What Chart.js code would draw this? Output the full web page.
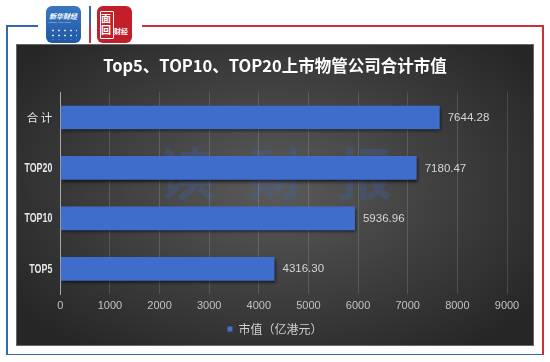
<!DOCTYPE html>
<html><head><meta charset="utf-8">
<script src="https://cdn.jsdelivr.net/npm/chart.js@4.4.0/dist/chart.umd.min.js"></script>
<style>
html,body{margin:0;padding:0;background:#fff;width:550px;height:362px;overflow:hidden;position:relative;font-family:"Noto Sans CJK SC",sans-serif}
.ln{position:absolute}
#panel{position:absolute;left:16px;top:44px;width:518px;height:302px;
 background:radial-gradient(ellipse 62% 68% at 50% 47%, #5b5b5b 0%, #404040 50%, #262626 100%);
 box-shadow: inset 0 0 0 1px #686868;}
#wm{position:absolute;left:143px;top:97px;font:bold 56px "Noto Sans CJK SC";color:rgba(60,100,175,0.28);letter-spacing:33px;white-space:nowrap;line-height:60px}
#panel canvas{position:absolute;left:0;top:0}
.logo{position:absolute;top:6px;width:35px;height:37px;border-radius:6px;overflow:hidden;color:#fff}
#lb{left:46px;background:linear-gradient(#3b76c0,#1e58a5)}
#lr{left:97px;background:#c21f2b}
</style></head>
<body>
<div class="ln" style="left:6px;top:25px;width:32px;height:1.5px;background:#3565ae"></div>
<div class="ln" style="left:142px;top:25px;width:401.5px;height:1.5px;background:#c9303a"></div>
<div class="ln" style="left:6px;top:25px;width:1.5px;height:330px;background:#3565ae"></div>
<div class="ln" style="left:6px;top:353.5px;width:537px;height:1.5px;background:#3565ae"></div>
<div class="ln" style="left:542px;top:25px;width:1.5px;height:330px;background:#c9303a"></div>
<div class="ln" style="left:89px;top:6px;width:1.5px;height:37px;background:linear-gradient(#3565ae 0%,#3565ae 50%,#c9303a 60%,#c9303a 100%)"></div>
<div class="logo" id="lb">
  <div style="position:absolute;left:3px;top:5px;font:italic bold 7px 'Noto Sans CJK SC';white-space:nowrap">新华财经</div>
  <div style="position:absolute;left:2px;top:14px;font:3px 'Liberation Serif';white-space:nowrap;transform:scale(0.9);transform-origin:left top">XINHUA FINANCE</div>
  <div style="position:absolute;left:4px;top:22px;width:27px;height:12px;background:radial-gradient(circle,#fff 0.8px,transparent 1.2px) 0 0/6px 5px;opacity:0.85"></div>
</div>
<div class="logo" id="lr">
  <div style="position:absolute;left:3px;top:5px;width:12px;height:26px;border:1px solid #fff;border-radius:1px"></div>
  <div style="position:absolute;left:4px;top:6px;font:bold 10px 'Noto Sans CJK SC';line-height:12px">面<br>回</div>
  <div style="position:absolute;left:17px;top:20px;font:bold 7px 'Noto Sans CJK SC';white-space:nowrap">财经</div>
</div>
<div id="panel">
  <div id="wm">读财报</div>
  <canvas id="c" width="518" height="302"></canvas>
</div>
<script>
const categories = ['合计', 'TOP20', 'TOP10', 'TOP5'];
const values = [7644.28, 7180.47, 5936.96, 4316.30];
const xTickValues = [0, 1000, 2000, 3000, 4000, 5000, 6000, 7000, 8000, 9000];
const seriesName = '市值（亿港元）';
const chartTitle = 'Top5、TOP10、TOP20上市物管公司合计市值';

const shadowPlugin = {
  id: 'barShadow',
  beforeDatasetsDraw(chart) {
    const ctx = chart.ctx; ctx.save();
    ctx.shadowColor = 'rgba(0,0,0,0.65)'; ctx.shadowBlur = 3; ctx.shadowOffsetX = 1.5; ctx.shadowOffsetY = 2;
  },
  afterDatasetsDraw(chart) { chart.ctx.restore(); }
};
const valueLabels = {
  id: 'valueLabels',
  afterDraw(chart) {
    const ctx = chart.ctx; ctx.save();
    ctx.font = '11.5px "Liberation Sans", Arial, sans-serif';
    ctx.fillStyle = '#d4d4d4'; ctx.textAlign = 'left'; ctx.textBaseline = 'middle';
    const meta = chart.getDatasetMeta(0);
    meta.data.forEach((bar, i) => {
      ctx.fillText(values[i].toFixed(2), bar.x + 8, bar.y + 0.5);
    });
    ctx.restore();
  }
};
// category labels drawn at the y scale's tick positions, in a narrow face
const yLabels = {
  id: 'yLabels',
  afterDraw(chart) {
    const ys = chart.scales.y, ctx = chart.ctx;
    ctx.save();
    ctx.fillStyle = '#e6e6e6'; ctx.textAlign = 'right'; ctx.textBaseline = 'middle';
    categories.forEach((c, i) => {
      const y = ys.getPixelForTick(i);
      const x = chart.chartArea.left - 8;
      ctx.save(); ctx.translate(x, y);
      if (/^[\x00-\x7f]+$/.test(c)) {
        ctx.font = 'bold 13px "Liberation Sans", Arial, sans-serif';
        ctx.scale(0.68, 1);
        ctx.fillText(c, 0, 0.5);
      } else {
        ctx.font = '11.5px "Noto Sans CJK SC", sans-serif';
        ctx.fillText(c.split('').join(' '), 0, 0.5);
      }
      ctx.restore();
    });
    ctx.restore();
  }
};

new Chart(document.getElementById('c'), {
  type: 'bar',
  data: {
    labels: categories,
    datasets: [{
      label: seriesName,
      data: values,
      backgroundColor: '#3e6dcb',
      borderWidth: 0,
      barPercentage: 0.47,
      categoryPercentage: 1
    }]
  },
  options: {
    indexAxis: 'y',
    responsive: false,
    animation: false,
    layout: { padding: { left: 27, right: 27, top: 0, bottom: 1 } },
    plugins: {
      title: {
        display: true, text: chartTitle, color: '#ffffff',
        font: { family: '"Noto Sans CJK SC", sans-serif', size: 16.5, weight: 'bold', lineHeight: 1.2 },
        padding: { top: 12, bottom: 16.5 }
      },
      legend: {
        display: true, position: 'bottom',
        labels: {
          color: '#cfcfcf', boxWidth: 5, boxHeight: 5, padding: 8,
          font: { family: '"Noto Sans CJK SC", sans-serif', size: 12 },
          generateLabels(chart) {
            return [{ text: seriesName, fillStyle: '#4472c4', strokeStyle: '#4472c4', lineWidth: 0, fontColor: '#cfcfcf', datasetIndex: 0 }];
          }
        }
      },
      tooltip: { enabled: false }
    },
    scales: {
      x: {
        min: 0, max: 9000,
        afterBuildTicks(scale) { scale.ticks = xTickValues.map(v => ({ value: v })); },
        afterFit(scale) { scale.height = 21; },
        ticks: { color: '#c2c2c2', padding: 5, callback: v => String(v),
                 font: { family: '"Liberation Sans", Arial, sans-serif', size: 11 } },
        grid: {
          drawTicks: false,
          color: ctx => ctx.index === 0 ? 'rgba(0,0,0,0)' : 'rgba(255,255,255,0.14)',
          lineWidth: 1
        },
        border: { display: false }
      },
      y: {
        afterFit(scale) { scale.width = 17.3; },
        ticks: { display: false },
        grid: { display: false, drawTicks: false },
        border: { display: true, color: '#a8a8a8', width: 1 }
      }
    }
  },
  plugins: [shadowPlugin, valueLabels, yLabels]
});
</script>
</body></html>
